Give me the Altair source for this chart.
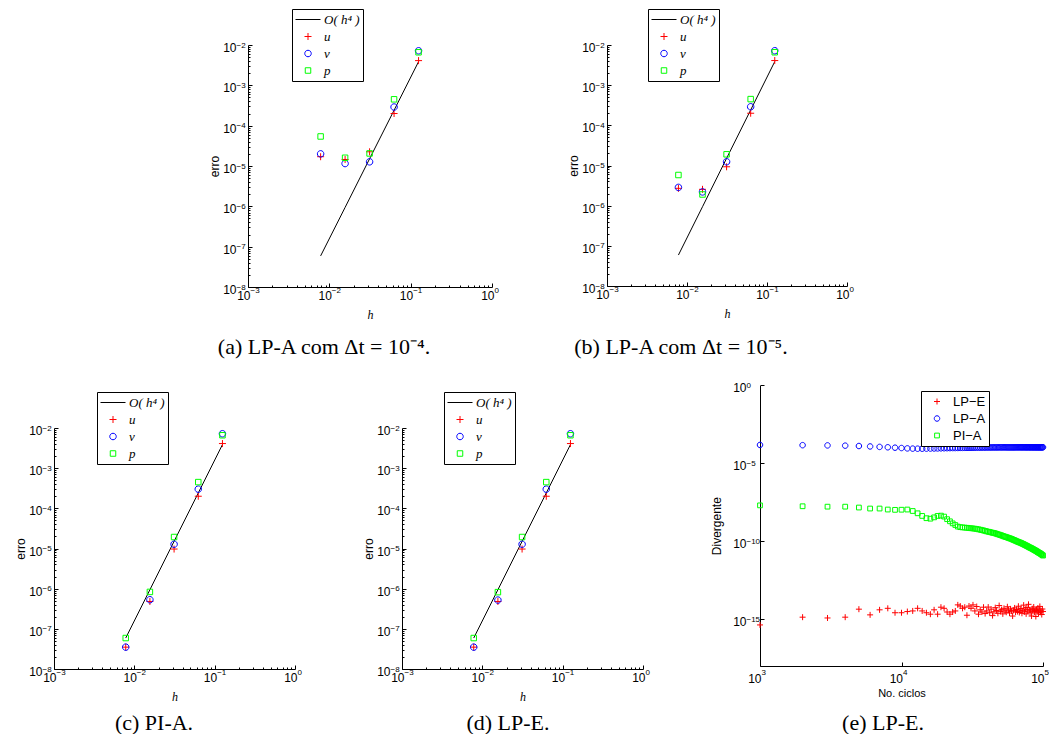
import math
import altair as alt
import pandas as pd

CANVAS_W, CANVAS_H = 1041, 726

# ---------------- data (panels a-d) ----------------
H = [0.0078125, 0.015625, 0.03125, 0.0625, 0.125]
LINE_H4 = [5.9e-8, 9.4e-7, 1.51e-5, 2.41e-4, 3.86e-3]

A_U = [1.7e-5, 1.45e-5, 2.25e-5, 2.0e-4, 4.1e-3]
A_V = [2.0e-5, 1.15e-5, 1.27e-5, 2.9e-4, 7.2e-3]
A_P = [5.4e-5, 1.6e-5, 2.05e-5, 4.5e-4, 6.6e-3]

B_U = [2.7e-6, 2.55e-6, 9.3e-6, 2.0e-4, 4.1e-3]
B_V = [2.85e-6, 2.2e-6, 1.24e-5, 2.9e-4, 7.2e-3]
B_P = [5.8e-6, 1.9e-6, 1.9e-5, 4.5e-4, 6.6e-3]

C_U = [3.5e-8, 4.8e-7, 9.7e-6, 2.0e-4, 4.1e-3]
C_V = [3.5e-8, 5.3e-7, 1.28e-5, 3.0e-4, 7.2e-3]
C_P = [5.9e-8, 8.3e-7, 1.93e-5, 4.5e-4, 6.6e-3]

D_U = [3.5e-8, 4.8e-7, 9.7e-6, 2.0e-4, 4.1e-3]
D_V = [3.5e-8, 5.2e-7, 1.28e-5, 3.0e-4, 7.2e-3]
D_P = [5.9e-8, 8.2e-7, 1.93e-5, 4.5e-4, 6.6e-3]

H_SERIES = ["O( h\u2074 )", "u", "v", "p"]

# ---------------- data (panel e) ----------------
E_N = list(range(1000, 100001, 1000))
E_LPE = [
    4.3e-16, 1.35e-15, 1.2e-15, 1.35e-15, 4.4e-15, 1.9e-15, 4.0e-15, 5.0e-15, 2.6e-15, 2.6e-15,
    3.1e-15, 3.4e-15, 5.0e-15, 3.4e-15, 2.6e-15, 2.1e-15, 4.0e-15, 2.1e-15, 5.9e-15, 5.0e-15,
    2.9e-15, 2.1e-15, 2.9e-15, 3.4e-15, 8.3e-15, 7.0e-15, 5.0e-15, 5.9e-15, 1.8e-15, 7.0e-15,
    5.0e-15, 8.3e-15, 3.4e-15, 6.5e-15, 2.1e-15, 4.0e-15, 2.9e-15, 5.9e-15, 2.3e-15, 3.4e-15,
    6.0e-15, 2.6e-15, 4.4e-15, 1.7e-15, 3.0e-15, 5.5e-15, 3.6e-15, 2.4e-15, 7.5e-15, 3.2e-15,
    4.1e-15, 2.2e-15, 5.0e-15, 3.4e-15, 2.8e-15, 6.3e-15, 3.9e-15, 2.5e-15, 4.6e-15, 3.3e-15,
    1.6e-15, 3.7e-15, 5.3e-15, 2.9e-15, 4.2e-15, 3.1e-15, 6.8e-15, 2.7e-15, 3.8e-15, 4.9e-15,
    2.4e-15, 3.5e-15, 8.0e-15, 3.0e-15, 4.4e-15, 2.2e-15, 5.6e-15, 3.3e-15, 9.0e-15, 4.0e-15,
    2.6e-15, 3.9e-15, 1.6e-15, 4.7e-15, 3.2e-15, 6.1e-15, 2.9e-15, 3.6e-15, 1.5e-15, 4.3e-15,
    3.0e-15, 5.2e-15, 2.5e-15, 3.8e-15, 6.6e-15, 2.8e-15, 3.4e-15, 2.0e-15, 4.5e-15, 3.1e-15,
]
E_LPA = [
    1.50e-4, 1.45e-4, 1.40e-4, 1.35e-4, 1.28e-4, 1.20e-4, 1.12e-4, 1.06e-4, 1.00e-4, 9.5e-5,
    9.0e-5, 8.7e-5, 8.6e-5, 8.6e-5, 8.7e-5, 8.8e-5, 8.9e-5, 9.0e-5, 9.1e-5, 9.2e-5,
    9.3e-5, 9.4e-5, 9.5e-5, 9.5e-5, 9.6e-5, 9.7e-5, 9.7e-5, 9.8e-5, 9.8e-5, 9.9e-5,
    9.9e-5, 1.00e-4, 1.00e-4, 1.01e-4, 1.01e-4, 1.01e-4, 1.02e-4, 1.02e-4, 1.02e-4, 1.03e-4,
    1.03e-4, 1.03e-4, 1.03e-4, 1.04e-4, 1.04e-4, 1.04e-4, 1.04e-4, 1.04e-4, 1.05e-4, 1.05e-4,
    1.05e-4, 1.05e-4, 1.05e-4, 1.05e-4, 1.05e-4, 1.05e-4, 1.05e-4, 1.05e-4, 1.05e-4, 1.05e-4,
    1.05e-4, 1.05e-4, 1.05e-4, 1.06e-4, 1.06e-4, 1.06e-4, 1.06e-4, 1.06e-4, 1.06e-4, 1.06e-4,
    1.06e-4, 1.06e-4, 1.06e-4, 1.06e-4, 1.06e-4, 1.06e-4, 1.06e-4, 1.06e-4, 1.06e-4, 1.06e-4,
    1.06e-4, 1.06e-4, 1.06e-4, 1.06e-4, 1.06e-4, 1.06e-4, 1.06e-4, 1.06e-4, 1.06e-4, 1.06e-4,
    1.06e-4, 1.06e-4, 1.06e-4, 1.06e-4, 1.06e-4, 1.06e-4, 1.06e-4, 1.06e-4, 1.06e-4, 1.06e-4,
]
E_PIA = [
    2.0e-8, 1.75e-8, 1.65e-8, 1.65e-8, 1.45e-8, 1.25e-8, 1.25e-8, 1.08e-8, 1.03e-8, 1.05e-8,
    1.08e-8, 8.7e-9, 6.2e-9, 4.2e-9, 3.0e-9, 2.8e-9, 3.4e-9, 4.2e-9, 4.4e-9, 3.8e-9,
    2.6e-9, 1.9e-9, 1.4e-9, 1.1e-9, 8.7e-10, 8.0e-10, 7.7e-10, 7.5e-10, 7.3e-10, 7.0e-10,
    6.8e-10, 6.6e-10, 6.4e-10, 6.1e-10, 5.8e-10, 5.5e-10, 5.2e-10, 4.9e-10, 4.6e-10, 4.3e-10,
    4.1e-10, 3.9e-10, 3.7e-10, 3.5e-10, 3.4e-10, 3.2e-10, 3.0e-10, 2.8e-10, 2.65e-10, 2.5e-10,
    2.35e-10, 2.2e-10, 2.05e-10, 1.95e-10, 1.85e-10, 1.75e-10, 1.65e-10, 1.55e-10, 1.48e-10, 1.4e-10,
    1.3e-10, 1.22e-10, 1.15e-10, 1.08e-10, 1.0e-10, 9.5e-11, 9.0e-11, 8.5e-11, 8.1e-11, 7.7e-11,
    7.2e-11, 6.8e-11, 6.4e-11, 6.0e-11, 5.6e-11, 5.3e-11, 5.0e-11, 4.7e-11, 4.4e-11, 4.1e-11,
    3.9e-11, 3.7e-11, 3.5e-11, 3.3e-11, 3.1e-11, 2.9e-11, 2.75e-11, 2.6e-11, 2.45e-11, 2.3e-11,
    2.15e-11, 2.0e-11, 1.9e-11, 1.8e-11, 1.7e-11, 1.6e-11, 1.5e-11, 1.4e-11, 1.3e-11, 1.2e-11,
]
E_SERIES = ["LP\u2212E", "LP\u2212A", "PI\u2212A"]

# ---------------- ticks / labels / captions ----------------
TICK_BASE = "10"
X_TICKS = [1e-3, 1e-2, 1e-1, 1e0]
X_EXPONENTS = ["\u22123", "\u22122", "\u22121", "0"]
X_MINOR = [k * 10.0 ** e for e in (-3, -2, -1) for k in range(2, 10)]
Y_TICKS = [1e-8, 1e-7, 1e-6, 1e-5, 1e-4, 1e-3, 1e-2]
Y_EXPONENTS = ["\u22128", "\u22127", "\u22126", "\u22125", "\u22124", "\u22123", "\u22122"]
Y_MINOR = [k * 10.0 ** e for e in range(-8, -2) for k in range(2, 10)]
E_X_TICKS = [1e3, 1e4, 1e5]
E_X_EXPONENTS = ["3", "4", "5"]
E_Y_TICKS = [1e-15, 1e-10, 1e-5, 1e0]
E_Y_EXPONENTS = ["\u221215", "\u221210", "\u22125", "0"]

CAPTIONS = ["(a) LP-A com \u0394t = 10\u207b\u2074.", "(b) LP-A com \u0394t = 10\u207b\u2075.",
            "(c) PI-A.", "(d) LP-E.", "(e) LP-E."]

# ---------------- styles ----------------
H_COLORS = ["#000000", "#ff0000", "#0000ff", "#00ff00"]
E_COLORS = ["#ff0000", "#0000ff", "#00ff00"]
SYM = 625  # symbol size -> custom paths scaled by 12.5
LINE_SYM = "M-1,0L1,0"
PLUS = "M-0.28,0L0.28,0M0,-0.28L0,0.28"
CIRCLE = "M0.26,0A0.26,0.26,0,1,1,-0.26,0A0.26,0.26,0,1,1,0.26,0Z"
SQUARE = "M-0.22,-0.22L0.22,-0.22L0.22,0.22L-0.22,0.22Z"
PLUS_E = "M-0.24,0L0.24,0M0,-0.24L0,0.24"
CIRCLE_E = "M0.22,0A0.22,0.22,0,1,1,-0.22,0A0.22,0.22,0,1,1,0.22,0Z"
SQUARE_E = "M-0.19,-0.19L0.19,-0.19L0.19,0.19L-0.19,0.19Z"
SANS = "Liberation Sans"
SERIF = "Liberation Serif"


def label_expr(ticks, labels):
    parts = [f"round(log(datum.value)/LN10) == {round(math.log10(t))} ? '{l}'"
             for t, l in zip(ticks, labels)]
    return " : ".join(parts) + " : ''"


def common(**kw):
    base = dict(grid=False, domainColor="black", tickColor="black", domainWidth=1,
                tickWidth=1, labelFlush=False, labelOverlap=False, labelColor="black",
                labelFont=SANS, titleColor="black", titleFontWeight="normal")
    base.update(kw)
    return alt.Axis(**base)


# main axis: ticks, domain, base "10" labels and title
def x_main(ybot, ticks, title, tfont, tstyle, tsize, tpad, base_y, shift=2):
    return common(orient="bottom", offset=ybot - CANVAS_H, values=ticks,
                  labelExpr=f"'{TICK_BASE}'", tickSize={"expr": "-4"},
                  labelPadding=base_y + 4, labelAlign="right", labelOffset=shift,
                  labelBaseline="alphabetic", labelFontSize=12,
                  title=title, titleFont=tfont, titleFontStyle=tstyle,
                  titleFontSize=tsize, titlePadding=tpad)


def y_main(xleft, ticks, title, tpad, base_x):
    return common(orient="left", offset=-xleft, values=ticks,
                  labelExpr=f"'{TICK_BASE}'", tickSize={"expr": "-4"},
                  labelPadding=base_x + 4, labelAlign="right", labelOffset=6.5,
                  labelBaseline="alphabetic", labelFontSize=12,
                  title=title, titleFont=SANS, titleFontSize=12, titlePadding=tpad)


# exponent axis: superscript labels only
def x_exp(ybot, ticks, exps, exp_y, shift=2):
    return common(orient="bottom", offset=ybot - CANVAS_H, values=ticks,
                  labelExpr=label_expr(ticks, exps), ticks=False, domain=False,
                  labelPadding=exp_y, labelAlign="left", labelOffset=shift,
                  labelBaseline="alphabetic", labelFontSize=8, title=None)


def y_exp(xleft, ticks, exps, base_x):
    return common(orient="left", offset=-xleft, values=ticks,
                  labelExpr=label_expr(ticks, exps), ticks=False, domain=False,
                  labelPadding=base_x, labelAlign="left", labelOffset=2,
                  labelBaseline="alphabetic", labelFontSize=8, title=None)


def minor_axis(orient, pos, values):
    off = pos - CANVAS_H if orient == "bottom" else -pos
    return common(orient=orient, offset=off, values=values, labels=False,
                  domain=False, tickSize={"expr": "-2"}, title=None)


def legend(x, y, font, style):
    return alt.Legend(title=None, orient="none", legendX=x, legendY=y,
                      direction="vertical", symbolSize=SYM, symbolStrokeWidth=1,
                      symbolFillColor="transparent", clipHeight=15, rowPadding=2,
                      padding=3, labelOffset=3, labelFont=font, labelFontStyle=style,
                      labelFontSize=13, labelColor="black", strokeColor="black",
                      fillColor="white")


def guide_layer(df, xf, yf, xs, ys, xaxis, yaxis):
    return alt.Chart(df).mark_point(opacity=0).encode(
        x=alt.X(xf, scale=xs, axis=xaxis), y=alt.Y(yf, scale=ys, axis=yaxis))


def h_panel(u, v, p, x0, x1, ybot, ytop, legx, legy):
    pts = pd.DataFrame({"h": H * 3, "erro": u + v + p,
                        "serie": ["u"] * 5 + ["v"] * 5 + ["p"] * 5})
    ln = pd.DataFrame({"h": H, "erro": LINE_H4, "serie": [H_SERIES[0]] * 5})
    xs = alt.Scale(type="log", domain=[1e-3, 1], range=[x0, x1], nice=False)
    ys = alt.Scale(type="log", domain=[1e-8, 1e-2], range=[ybot, ytop], nice=False)
    leg = legend(legx, legy, SERIF, "italic")
    color = alt.Color("serie:N", scale=alt.Scale(domain=H_SERIES, range=H_COLORS), legend=leg)
    shape = alt.Shape("serie:N", scale=alt.Scale(domain=H_SERIES,
                      range=[LINE_SYM, PLUS, CIRCLE, SQUARE]), legend=leg)
    line = alt.Chart(ln).mark_line(strokeWidth=1).encode(
        x=alt.X("h:Q", scale=xs, axis=x_main(ybot, X_TICKS, "h", SERIF, "italic", 12, 8, 12)),
        y=alt.Y("erro:Q", scale=ys, axis=y_main(x0, Y_TICKS, "erro", 1.5, 12)),
        color=color)
    points = alt.Chart(pts).mark_point(filled=False, size=SYM, strokeWidth=1, opacity=1).encode(
        x=alt.X("h:Q", scale=xs, axis=None),
        y=alt.Y("erro:Q", scale=ys, axis=None),
        color=color, shape=shape)
    minor = guide_layer(pts, "h:Q", "erro:Q", xs, ys,
                        minor_axis("bottom", ybot, X_MINOR), minor_axis("left", x0, Y_MINOR))
    exps = guide_layer(pts, "h:Q", "erro:Q", xs, ys,
                       x_exp(ybot, X_TICKS, X_EXPONENTS, 5.5),
                       y_exp(x0, Y_TICKS, Y_EXPONENTS, 12))
    return alt.layer(line, points, minor, exps).resolve_scale(x="independent", y="independent")


def e_panel(x0, x1, ybot, ytop, legx, legy):
    n = len(E_N)
    pts = pd.DataFrame({"n": E_N * 3, "div": E_LPE + E_LPA + E_PIA,
                        "serie": [E_SERIES[0]] * n + [E_SERIES[1]] * n + [E_SERIES[2]] * n})
    xs = alt.Scale(type="log", domain=[1e3, 1e5], range=[x0, x1], nice=False)
    ys = alt.Scale(type="log", domain=[1e-18, 1], range=[ybot, ytop], nice=False)
    leg = legend(legx, legy, SANS, "normal")
    points = alt.Chart(pts).mark_point(filled=False, size=SYM, strokeWidth=1, opacity=1).encode(
        x=alt.X("n:Q", scale=xs, axis=x_main(ybot, E_X_TICKS, "No. ciclos", SANS, "normal",
                                             11, 3, 16, shift=1)),
        y=alt.Y("div:Q", scale=ys, axis=y_main(x0, E_Y_TICKS, "Divergente", 9, 14)),
        color=alt.Color("serie:N", scale=alt.Scale(domain=E_SERIES, range=E_COLORS), legend=leg),
        shape=alt.Shape("serie:N", scale=alt.Scale(domain=E_SERIES,
                        range=[PLUS_E, CIRCLE_E, SQUARE_E]), legend=leg))
    exps = guide_layer(pts, "n:Q", "div:Q", xs, ys,
                       x_exp(ybot, E_X_TICKS, E_X_EXPONENTS, 8, shift=1),
                       y_exp(x0, E_Y_TICKS, E_Y_EXPONENTS, 14))
    return alt.layer(points, exps).resolve_scale(x="independent", y="independent")


def caption(text, x, y):
    return alt.Chart(pd.DataFrame({"t": [text]})).mark_text(
        font=SERIF, fontSize=22, align="center", baseline="alphabetic", color="black"
    ).encode(text="t:N", x=alt.value(x), y=alt.value(y))


pa = h_panel(A_U, A_V, A_P, 240, 484, 279, 37, 284, 1)
pb = h_panel(B_U, B_V, B_P, 599, 839, 278, 37, 640, 1)
pc = h_panel(C_U, C_V, C_P, 46, 287, 661, 420, 89, 384)
pd_ = h_panel(D_U, D_V, D_P, 394, 635, 661, 420, 436, 384)
pe = e_panel(752, 1035, 658, 377.3, 913, 383)

caps = [caption(CAPTIONS[0], 316, 346), caption(CAPTIONS[1], 673, 346),
        caption(CAPTIONS[2], 146, 722), caption(CAPTIONS[3], 500, 722),
        caption(CAPTIONS[4], 875, 722)]

chart = alt.layer(pa, pb, pc, pd_, pe, *caps).resolve_scale(
    x="independent", y="independent", color="independent", shape="independent"
).resolve_legend(color="independent", shape="independent").properties(
    width=CANVAS_W, height=CANVAS_H, padding=0,
    autosize=alt.AutoSizeParams(type="none")
).configure_view(strokeWidth=0)

chart.save("out.html", embed_options={"renderer": "svg", "actions": False})
